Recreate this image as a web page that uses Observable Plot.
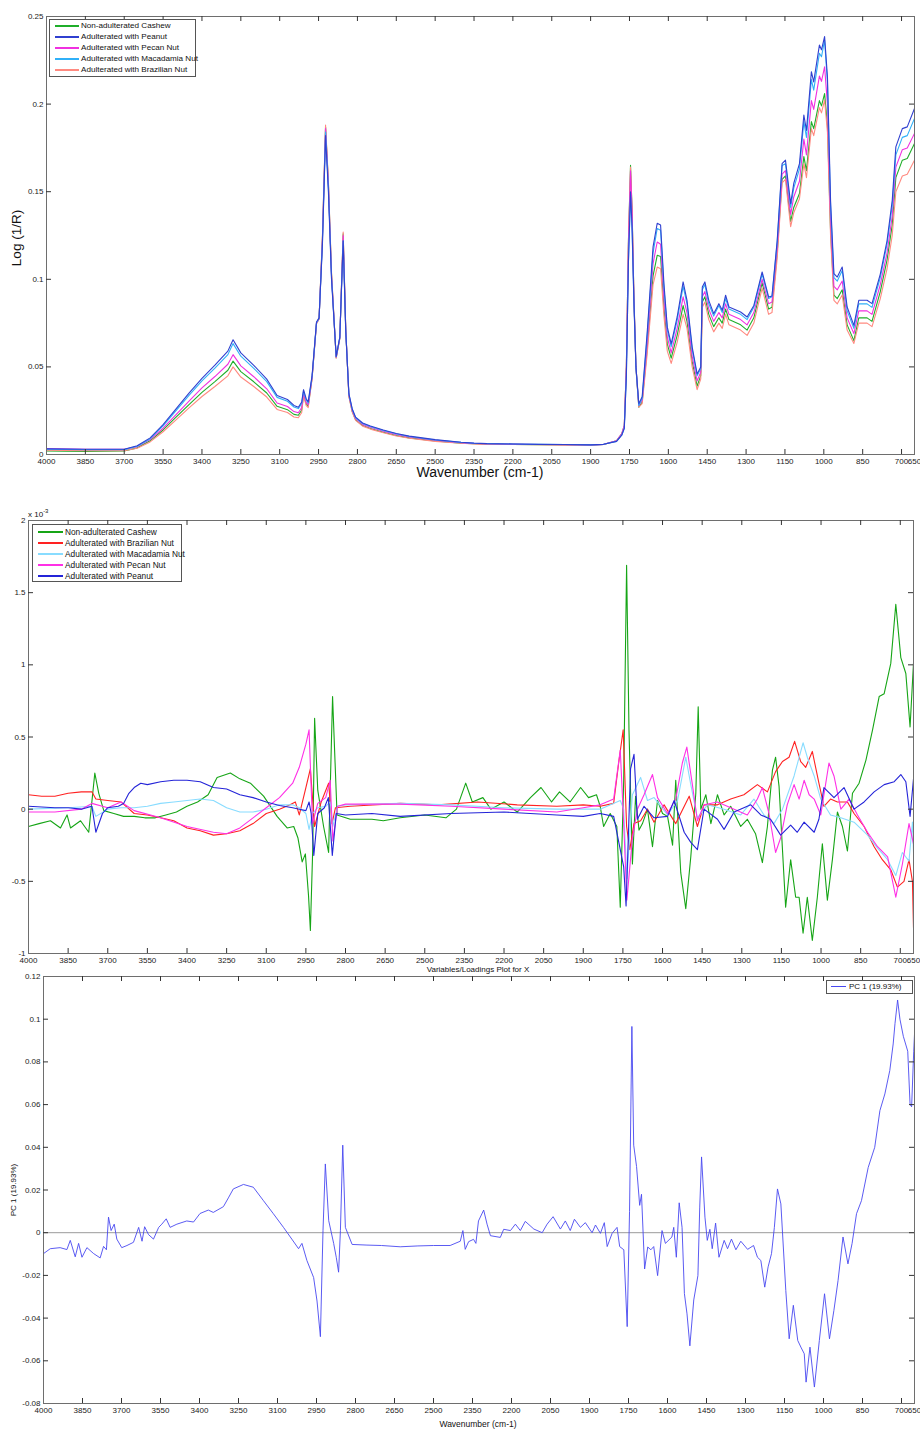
<!DOCTYPE html>
<html><head><meta charset="utf-8">
<script src="https://cdn.jsdelivr.net/npm/d3@7"></script>
<script src="https://cdn.jsdelivr.net/npm/@observablehq/plot@0.6"></script>
<style>
body{margin:0;background:#fff;font-family:"Liberation Sans",Arial,sans-serif;}
#wrap{position:relative;width:920px;height:1429px;overflow:hidden;background:#fff;}
.p{position:absolute;left:0;}
.lbl{position:absolute;white-space:nowrap;color:#111;line-height:1;}
.leg{position:absolute;border:1px solid #555;background:#fff;box-sizing:border-box;}
.leg .ln{position:absolute;}
.leg .tx{position:absolute;white-space:nowrap;color:#111;line-height:1;}
</style>
</head><body><div id="wrap"></div>
<script>
// ---------- shared axis ticks ----------
const XTICKS = [4000,3850,3700,3550,3400,3250,3100,2950,2800,2650,2500,2350,2200,2050,1900,1750,1600,1450,1300,1150,1000,850,700,650];
const Y1TICKS = [0,0.05,0.1,0.15,0.2,0.25];
const Y2TICKS = [-1,-0.5,0,0.5,1,1.5,2];
const Y3TICKS = [-0.08,-0.06,-0.04,-0.02,0,0.02,0.04,0.06,0.08,0.1,0.12];

// ---------- panel 1: Log(1/R) spectra ----------
const P1_NAMES = ["Non-adulterated Cashew","Adulterated with Peanut","Adulterated with Pecan Nut","Adulterated with Macadamia Nut","Adulterated with Brazilian Nut"];
const P1_COLORS = ["#1fae2a","#3040d0","#f030e0","#30b0f8","#ff8a80"];
const W1 = [4000,3850,3700,3650,3600,3550,3500,3450,3400,3350,3300,3280,3250,3200,3150,3110,3070,3045,3028,3015,3008,2998,2990,2975,2958,2948,2935,2923,2912,2900,2882,2868,2855,2845,2833,2820,2807,2780,2750,2700,2650,2600,2500,2400,2350,2300,2200,2100,2000,1900,1850,1800,1780,1770,1762,1754,1746,1740,1733,1725,1714,1701,1682,1659,1643,1630,1617,1604,1589,1566,1543,1528,1508,1489,1475,1469,1459,1444,1425,1405,1392,1379,1366,1321,1296,1270,1238,1213,1200,1180,1161,1148,1128,1116,1094,1077,1067,1048,1039,1017,1009,997,986,974,961,948,929,910,884,865,833,814,782,756,736,722,697,678,650];
const PEANUT1 = [.0032,.0030,.0030,.0050,.0095,.0170,.0260,.0350,.0435,.0510,.0590,.0655,.0580,.0509,.0430,.0337,.0314,.0280,.0270,.0300,.0370,.0320,.0300,.0450,.0756,.0780,.120,.182,.150,.100,.0560,.0670,.122,.0700,.0347,.0260,.0213,.0180,.0163,.0140,.0120,.0105,.0085,.0070,.0065,.0062,.0060,.0058,.0057,.0055,.0058,.0075,.0110,.0150,.045,.110,.150,.130,.088,.050,.029,.033,.069,.1185,.132,.131,.0975,.0727,.0632,.0785,.0985,.088,.0613,.046,.050,.0956,.0985,.088,.0804,.0861,.0823,.0909,.0842,.0813,.0785,.0851,.1042,.0899,.0905,.122,.166,.168,.1432,.1547,.166,.1937,.185,.2185,.2127,.2337,.231,.2385,.2156,.1451,.1033,.1013,.107,.0842,.0737,.088,.088,.0861,.103,.122,.145,.1756,.186,.187,.1975];
const MACADAMIA1 = [.0030,.0028,.0028,.0047,.0090,.0163,.0250,.0338,.0420,.0493,.0570,.0633,.0561,.0492,.0416,.0326,.0304,.0271,.0262,.0292,.0362,.0312,.0294,.0445,.0752,.0778,.121,.184,.152,.101,.0558,.0668,.122,.0702,.0345,.0258,.0210,.0177,.0160,.0137,.0118,.0103,.0083,.0069,.0064,.0062,.0060,.0058,.0057,.0055,.0058,.0075,.0110,.0150,.045,.110,.148,.128,.087,.049,.028,.032,.067,.115,.129,.128,.095,.071,.0615,.0765,.096,.086,.060,.045,.049,.094,.097,.086,.079,.085,.081,.089,.083,.080,.077,.084,.103,.089,.090,.121,.165,.166,.141,.152,.163,.190,.181,.214,.208,.229,.227,.2366,.212,.142,.101,.099,.105,.082,.072,.086,.086,.084,.101,.120,.142,.171,.181,.182,.1918];
const PECAN1 = [.0034,.0030,.0030,.0045,.0085,.0150,.0228,.0305,.0380,.0445,.0515,.0570,.0506,.0444,.0375,.0294,.0274,.0245,.0238,.0268,.0350,.0298,.0284,.0440,.0750,.0776,.123,.186,.154,.102,.0556,.0665,.125,.0710,.0340,.0252,.0205,.0172,.0155,.0133,.0114,.0100,.0081,.0068,.0063,.0061,.0059,.0057,.0056,.0054,.0058,.0078,.0118,.0165,.050,.120,.162,.138,.090,.050,.028,.031,.063,.109,.1213,.120,.089,.067,.058,.072,.090,.081,.056,.042,.047,.090,.093,.083,.076,.081,.078,.086,.080,.077,.074,.081,.100,.086,.087,.118,.160,.162,.137,.147,.156,.180,.171,.202,.197,.216,.213,.2213,.200,.135,.096,.094,.099,.078,.069,.082,.082,.080,.097,.115,.136,.164,.174,.175,.1833];
const CASHEW1 = [.0020,.0018,.0020,.0038,.0078,.0140,.0213,.0285,.0355,.0416,.0481,.0533,.0473,.0415,.0351,.0275,.0256,.0229,.0224,.0254,.0342,.0290,.0276,.0436,.0748,.0775,.124,.187,.155,.103,.0552,.0662,.126,.0712,.0335,.0245,.0198,.0165,.0148,.0127,.0108,.0095,.0077,.0065,.0061,.0059,.0058,.0056,.0055,.0054,.0057,.0078,.0118,.0165,.051,.122,.165,.140,.091,.050,.027,.030,.060,.102,.1137,.113,.084,.063,.055,.068,.085,.076,.053,.039,.045,.087,.090,.080,.073,.078,.075,.083,.077,.074,.071,.078,.098,.083,.084,.115,.157,.159,.133,.141,.149,.170,.162,.190,.186,.202,.199,.206,.188,.128,.091,.089,.094,.074,.065,.078,.078,.076,.093,.111,.131,.158,.168,.169,.1775];
const BRAZIL1 = [.0024,.0022,.0022,.0036,.0072,.0130,.0198,.0266,.0331,.0388,.0449,.0500,.0442,.0388,.0328,.0257,.0240,.0214,.0210,.0240,.0335,.0280,.0268,.0432,.0746,.0774,.125,.188,.156,.104,.0550,.0660,.127,.0715,.0330,.0242,.0195,.0162,.0145,.0124,.0106,.0093,.0075,.0064,.0060,.0058,.0057,.0056,.0055,.0053,.0057,.0078,.0118,.0165,.051,.122,.164,.139,.090,.049,.027,.029,.057,.097,.107,.106,.079,.059,.052,.064,.080,.072,.050,.037,.043,.084,.087,.077,.070,.075,.072,.080,.074,.071,.068,.075,.095,.080,.081,.112,.155,.157,.130,.138,.146,.166,.158,.186,.182,.198,.195,.2023,.184,.125,.088,.086,.091,.071,.0634,.075,.075,.073,.089,.106,.125,.150,.159,.160,.168];

// ---------- panel 2: loadings (x 10^-3) ----------
const P2_NAMES = ["Non-adulterated Cashew","Adulterated with Brazilian Nut","Adulterated with Macadamia Nut","Adulterated with Pecan Nut","Adulterated with Peanut"];
const P2_COLORS = ["#16a516","#ff2222","#88dcff","#ff30e6","#2424d8"];
const CASHEW2_W = [4000,3960,3917,3879,3854,3841,3803,3772,3749,3734,3715,3677,3640,3600,3560,3520,3480,3440,3400,3360,3320,3286,3236,3200,3160,3110,3059,3021,2996,2980,2964,2952,2940,2933,2924,2917,2905,2883,2864,2849,2832,2782,2700,2657,2593,2500,2420,2380,2345,2320,2280,2250,2200,2150,2100,2060,2020,1990,1950,1910,1880,1850,1836,1823,1798,1773,1760,1747,1736,1727,1714,1702,1689,1676,1657,1638,1619,1600,1581,1562,1550,1531,1512,1493,1474,1465,1455,1436,1417,1392,1367,1342,1304,1279,1248,1222,1203,1184,1172,1159,1146,1134,1115,1096,1083,1068,1052,1033,1014,995,976,957,938,919,900,881,856,830,805,780,761,736,717,698,679,663,650];
const CASHEW2_V = [-0.12,-0.10,-0.08,-0.13,-0.04,-0.13,-0.08,-0.16,0.25,0.11,-0.01,-0.03,-0.05,-0.05,-0.06,-0.06,-0.04,-0.02,0.02,0.05,0.10,0.22,0.25,0.21,0.18,0.09,-0.05,-0.13,-0.12,-0.20,-0.365,-0.31,-0.60,-0.84,-0.27,0.63,0.13,-0.12,-0.30,0.78,-0.04,-0.07,-0.07,-0.08,-0.06,-0.04,-0.06,0.0,0.18,0.05,0.08,0.0,0.05,-0.02,0.08,0.15,0.05,0.12,0.05,0.15,0.08,0.10,0.02,-0.12,-0.03,-0.12,-0.68,0.20,1.69,0.55,-0.38,0.09,-0.145,-0.10,0.0,-0.26,0.06,-0.03,-0.05,-0.25,0.20,-0.44,-0.69,-0.33,0.11,0.71,0.0,0.10,-0.10,0.10,-0.04,0.02,-0.12,-0.07,-0.17,-0.37,-0.12,0.27,0.36,0.16,-0.28,-0.68,-0.35,-0.61,-0.61,-0.86,-0.61,-0.91,-0.61,-0.24,-0.63,-0.35,-0.02,-0.12,-0.29,0.11,0.18,0.34,0.55,0.78,0.80,1.01,1.42,1.05,0.94,0.57,1.01];
const BRAZIL2_W = [4000,3950,3900,3850,3800,3760,3745,3700,3650,3600,3550,3500,3450,3400,3350,3300,3250,3200,3150,3100,3050,3010,2990,2975,2950,2933,2917,2892,2864,2851,2838,2782,2593,2450,2300,2150,2000,1900,1836,1785,1766,1749,1736,1724,1708,1683,1657,1632,1594,1550,1499,1468,1443,1392,1342,1292,1241,1203,1172,1146,1121,1100,1077,1058,1033,1008,989,964,938,900,875,837,799,768,736,711,686,667,654,650];
const BRAZIL2_V = [0.10,0.09,0.09,0.11,0.12,0.12,0.07,0.06,0.05,-0.03,-0.04,-0.06,-0.08,-0.13,-0.15,-0.18,-0.17,-0.15,-0.10,-0.03,0.0,0.03,0.05,-0.04,0.15,0.28,-0.12,0.05,0.18,-0.10,0.01,0.02,0.04,0.03,0.05,0.03,0.02,0.03,0.02,0.04,0.32,0.55,-0.12,-0.28,-0.10,-0.08,0.0,-0.09,0.03,-0.10,0.09,-0.12,0.03,0.03,0.07,0.10,0.17,0.12,0.26,0.33,0.36,0.47,0.33,0.29,0.40,0.18,0.02,0.07,0.05,0.05,-0.03,-0.12,-0.26,-0.35,-0.42,-0.54,-0.50,-0.35,-0.50,-0.82];
const MACADAMIA2_W = [4000,3850,3760,3745,3700,3650,3600,3550,3500,3450,3400,3350,3300,3250,3200,3150,3100,3050,3000,2975,2950,2938,2925,2905,2875,2858,2848,2830,2800,2593,2400,2200,2000,1836,1760,1747,1735,1714,1683,1657,1632,1581,1543,1512,1493,1468,1430,1367,1304,1254,1216,1178,1146,1102,1068,1052,1026,1001,964,925,875,824,786,748,717,692,667,654,650];
const MACADAMIA2_V = [0.0,0.01,0.02,-0.05,0.0,0.01,0.01,0.02,0.04,0.05,0.06,0.07,0.06,0.01,-0.02,-0.02,0.0,0.03,0.03,0.01,-0.03,-0.14,-0.03,0.01,0.02,0.05,-0.12,0.02,0.03,0.04,0.03,0.01,0.0,0.0,0.06,0.0,-0.48,0.10,0.22,0.06,0.08,-0.04,0.06,0.36,0.17,-0.06,0.03,0.0,-0.04,0.07,-0.04,-0.10,0.0,0.23,0.46,0.36,0.23,0.07,-0.04,-0.06,-0.09,-0.18,-0.27,-0.35,-0.46,-0.30,-0.36,-0.09,-0.30];
const PECAN2_W = [4000,3900,3800,3760,3700,3650,3600,3500,3400,3300,3250,3200,3150,3100,3050,3000,2975,2950,2938,2925,2905,2875,2858,2848,2830,2800,2593,2400,2200,2000,1900,1836,1785,1760,1747,1735,1714,1695,1670,1638,1619,1581,1550,1525,1508,1487,1468,1443,1392,1329,1279,1241,1222,1197,1172,1153,1128,1102,1083,1064,1045,1026,1001,970,951,925,894,862,824,786,748,717,692,667,650];
const PECAN2_V = [-0.02,-0.02,0.0,0.04,0.01,0.05,-0.01,-0.06,-0.12,-0.16,-0.17,-0.13,-0.06,0.01,0.08,0.18,0.29,0.45,0.55,-0.10,0.04,0.08,0.20,-0.22,0.02,0.035,0.035,0.02,0.0,-0.02,0.01,0.03,0.07,0.41,-0.10,-0.63,-0.20,0.0,0.10,0.24,0.08,-0.03,0.07,0.32,0.43,0.17,-0.08,0.03,0.05,0.0,-0.04,0.07,0.15,-0.03,-0.30,-0.20,0.03,0.17,0.07,0.20,0.10,0.07,-0.04,0.32,0.23,0.0,0.07,-0.04,-0.16,-0.26,-0.33,-0.61,-0.38,-0.10,-0.24];
const PEANUT2_W = [4000,3900,3850,3800,3760,3745,3720,3700,3660,3640,3620,3600,3575,3550,3500,3450,3400,3350,3300,3250,3200,3150,3100,3050,3000,2975,2950,2938,2930,2920,2905,2880,2865,2850,2835,2800,2700,2593,2400,2200,2000,1900,1836,1785,1747,1738,1721,1708,1695,1670,1632,1581,1556,1518,1493,1468,1443,1392,1367,1329,1266,1228,1191,1153,1115,1090,1064,1026,1008,989,951,913,875,837,799,761,723,698,679,663,650];
const PEANUT2_V = [0.02,0.01,0.01,0.0,0.02,-0.16,-0.03,0.01,0.02,0.04,0.11,0.15,0.18,0.17,0.19,0.20,0.20,0.19,0.15,0.14,0.10,0.08,0.05,0.025,0.01,0.0,-0.01,0.05,-0.03,-0.32,-0.03,0.01,0.08,-0.32,-0.03,-0.04,-0.03,-0.05,-0.03,-0.02,-0.04,-0.05,-0.03,-0.05,-0.40,-0.67,0.28,0.38,-0.07,0.02,-0.06,-0.05,0.06,-0.16,-0.23,-0.28,0.0,-0.07,-0.14,-0.02,0.03,-0.04,-0.07,-0.18,-0.11,-0.16,-0.09,-0.16,-0.07,0.15,0.08,0.15,0.0,0.05,0.12,0.17,0.19,0.24,0.19,-0.05,0.21];

// ---------- panel 3: PC 1 loadings ----------
const P3_NAME = "PC 1 (19.93%)";
const P3_COLOR = "#4848f0";
const PC1_W = [4000,3974,3936,3910,3897,3878,3865,3852,3833,3807,3782,3769,3758,3750,3740,3728,3718,3699,3679,3654,3634,3621,3611,3596,3577,3557,3545,3528,3513,3487,3449,3423,3398,3366,3347,3308,3289,3270,3231,3193,3154,3116,3077,3045,3019,3006,2987,2961,2948,2935,2925,2916,2903,2884,2874,2865,2858,2849,2839,2813,2756,2700,2628,2560,2500,2436,2397,2387,2378,2365,2346,2337,2327,2307,2294,2281,2243,2230,2204,2185,2166,2147,2114,2082,2063,2040,2012,1993,1974,1958,1935,1916,1890,1877,1858,1843,1832,1813,1794,1784,1768,1755,1746,1737,1730,1719,1707,1700,1688,1676,1664,1653,1638,1621,1608,1583,1576,1566,1555,1544,1535,1525,1514,1499,1483,1476,1469,1456,1447,1437,1428,1415,1402,1382,1369,1354,1337,1318,1292,1269,1254,1241,1226,1213,1200,1189,1177,1164,1145,1132,1116,1099,1087,1074,1067,1052,1035,1016,996,977,960,944,925,906,890,873,854,828,803,783,764,745,732,725,715,706,693,676,667,661,653,650];
const PC1_V = [-0.0098,-0.0075,-0.007,-0.0079,-0.0036,-0.0113,-0.005,-0.0115,-0.007,-0.0098,-0.0118,-0.0064,-0.008,0.0073,0.001,0.004,-0.003,-0.007,-0.006,-0.0045,0.0025,-0.004,0.0028,-0.0009,-0.003,0.0025,0.004,0.0065,0.0025,0.004,0.0055,0.005,0.009,0.0106,0.0095,0.0122,0.0163,0.0205,0.0226,0.0213,0.015,0.0089,0.0025,-0.003,-0.0075,-0.005,-0.013,-0.021,-0.032,-0.0487,0.001,0.0322,0.0056,-0.005,-0.0115,-0.0185,0.001,0.041,0.0025,-0.0055,-0.0058,-0.006,-0.0066,-0.0062,-0.006,-0.006,-0.004,0.001,-0.0078,-0.0042,-0.0031,-0.005,0.0055,0.0106,0.004,-0.0014,-0.0022,0.0016,0.001,0.004,0.001,0.0053,0.0017,0.0,0.004,0.0075,0.0017,0.0055,0.001,0.0063,0.0025,0.0047,0.0,0.0036,-0.0003,0.0047,-0.0065,-0.0003,0.0025,-0.0065,-0.008,-0.044,0.01,0.0966,0.041,0.031,0.0128,0.018,-0.017,-0.0067,-0.008,-0.0065,-0.0201,0.001,-0.005,-0.002,0.0025,-0.0115,0.014,0.0025,-0.0285,-0.038,-0.053,-0.0315,-0.0201,0.012,0.0355,0.0073,-0.0036,0.0016,-0.0075,0.0045,-0.0115,-0.0036,-0.0075,-0.003,-0.008,-0.004,-0.0078,-0.006,-0.0115,-0.013,-0.0255,-0.016,-0.0098,0.0025,0.0205,0.0135,-0.0271,-0.0497,-0.034,-0.0505,-0.0536,-0.0567,-0.07,-0.0536,-0.0723,-0.0505,-0.0286,-0.0497,-0.0364,-0.0224,-0.002,-0.0146,-0.005,0.0089,0.015,0.0306,0.04,0.0572,0.065,0.076,0.0884,0.098,0.109,0.1,0.092,0.085,0.06,0.059,0.085,0.093];

// ---------- helpers ----------
const wrap = document.getElementById("wrap");
const FONT = '"Liberation Sans", Arial, Helvetica, sans-serif';
function rows(ws, vs, s) { return ws.map((w, i) => ({w, v: vs[i], s})); }
function fmt(d) { return String(d); }

function panel({top, height, ml, mr, mt, mb, ydomain, yticks, lines, extra = [], fs = 8}) {
  const pw = 920 - ml - mr, ph = height - mt - mb;
  const xin = XTICKS.slice(1, -1);
  const yin = yticks.slice(1, -1);
  const svg = Plot.plot({
    width: 920, height, marginLeft: ml, marginRight: mr, marginTop: mt, marginBottom: mb,
    style: {background: "transparent", fontFamily: FONT, fontSize: fs + "px", color: "#1a1a1a", overflow: "visible"},
    x: {domain: [4000, 650], ticks: XTICKS, tickFormat: fmt, tickSize: 0, tickPadding: 4, label: null},
    y: {domain: ydomain, ticks: yticks, tickFormat: fmt, tickSize: 0, tickPadding: 3, label: null},
    marks: [
      ...extra,
      ...lines,
      Plot.frame({stroke: "#6e6e6e", strokeWidth: 1}),
      Plot.tickX(xin, {x: d => d, insetTop: ph - 5, stroke: "#333"}),
      Plot.tickX(xin, {x: d => d, insetBottom: ph - 5, stroke: "#333"}),
      Plot.tickY(yin, {y: d => d, insetRight: pw - 5, stroke: "#333"}),
      Plot.tickY(yin, {y: d => d, insetLeft: pw - 5, stroke: "#333"})
    ]
  });
  svg.classList.add("p");
  svg.style.top = top + "px";
  wrap.appendChild(svg);
}

function label(text, x, y, size, rotate = false, anchor = "center") {
  const d = document.createElement("div");
  d.className = "lbl";
  d.textContent = text;
  d.style.fontSize = size + "px";
  d.style.left = x + "px";
  d.style.top = y + "px";
  const tx = anchor === "center" ? "-50%" : "0";
  d.style.transform = `translate(${tx},-50%)` + (rotate ? " rotate(-90deg)" : "");
  d.style.transformOrigin = "center center";
  wrap.appendChild(d);
  return d;
}

function legend(x, y, w, h, items, {rowH = 11, first = 7, lx = 5, lw = 24, tx = 31, fs = 8.1, lwidth = 2} = {}) {
  const box = document.createElement("div");
  box.className = "leg";
  Object.assign(box.style, {left: x + "px", top: y + "px", width: w + "px", height: h + "px"});
  items.forEach(([name, color], i) => {
    const cy = Math.round(first + i * rowH);
    const ln = document.createElement("div");
    ln.className = "ln";
    Object.assign(ln.style, {left: lx + "px", top: (cy - 2) + "px", width: lw + "px", height: lwidth + "px", backgroundColor: color});
    const t = document.createElement("div");
    t.className = "tx";
    t.textContent = name;
    Object.assign(t.style, {left: tx + "px", top: (cy - 1) + "px", fontSize: fs + "px", transform: "translateY(-50%)"});
    box.appendChild(ln); box.appendChild(t);
  });
  wrap.appendChild(box);
}

// ---------- panel 1 ----------
const S1 = [CASHEW1, BRAZIL1, PECAN1, MACADAMIA1, PEANUT1];
const S1C = [P1_COLORS[0], P1_COLORS[4], P1_COLORS[2], P1_COLORS[3], P1_COLORS[1]];
panel({
  top: 0, height: 480, ml: 46, mr: 6, mt: 16, mb: 26,
  ydomain: [0, 0.25], yticks: Y1TICKS,
  lines: S1.map((vs, k) => Plot.line(rows(W1, vs, k), {x: "w", y: "v", stroke: S1C[k], strokeWidth: 1.1, clip: true}))
});
label("Log (1/R)", 17, 238, 13.5, true);
label("Wavenumber (cm-1)", 480, 472, 14);
legend(49, 19, 147, 58, P1_NAMES.map((n, i) => [n, P1_COLORS[i]]));

// ---------- panel 2 ----------
const S2 = [[CASHEW2_W, CASHEW2_V], [BRAZIL2_W, BRAZIL2_V], [MACADAMIA2_W, MACADAMIA2_V], [PECAN2_W, PECAN2_V], [PEANUT2_W, PEANUT2_V]];
panel({
  top: 490, height: 485, ml: 28, mr: 7, mt: 30, mb: 22,
  ydomain: [-1, 2], yticks: Y2TICKS,
  lines: S2.map(([ws, vs], k) => Plot.line(rows(ws, vs, k), {x: "w", y: "v", stroke: P2_COLORS[k], strokeWidth: 1.1, clip: true}))
});
const ex = label("x 10", 28, 513, 8, false, "left");
const sup = document.createElement("span");
sup.textContent = "-3";
sup.style.fontSize = "6px";
sup.style.verticalAlign = "4px";
ex.appendChild(sup);
legend(32, 524, 150, 58, P2_NAMES.map((n, i) => [n, P2_COLORS[i]]), {first: 8, rowH: 11.1, lx: 5, lw: 25, tx: 32, fs: 8.3});
label("Variables/Loadings Plot for X", 478, 970, 8);

// ---------- panel 3 ----------
panel({
  top: 965, height: 464, ml: 43, mr: 6, mt: 11, mb: 26,
  ydomain: [-0.08, 0.12], yticks: Y3TICKS,
  extra: [Plot.ruleY([0], {stroke: "#9a9a9a", strokeWidth: 1})],
  lines: [Plot.line(rows(PC1_W, PC1_V, 0), {x: "w", y: "v", stroke: P3_COLOR, strokeWidth: 0.9, clip: true})]
});
label(P3_NAME, 14, 1190, 8, true);
label("Wavenumber (cm-1)", 478, 1424, 8.5);
legend(826, 980, 87, 14, [[P3_NAME, P3_COLOR]], {first: 7, lx: 4, lw: 15, tx: 22, fs: 8, lwidth: 1});
</script>
</body></html>
